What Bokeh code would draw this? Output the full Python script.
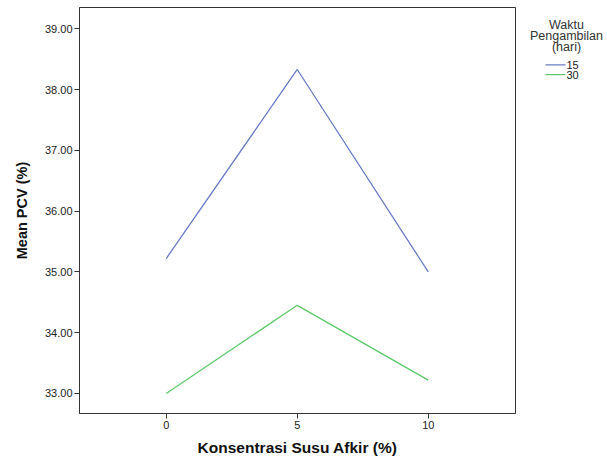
from bokeh.plotting import figure
from bokeh.layouts import row
from bokeh.models import Range1d, FixedTicker, CustomJSTickFormatter
from bokeh.core.properties import value
from bokeh.embed import file_html
from bokeh.resources import INLINE

konsentrasi = [0, 5, 10]
pcv_15 = [35.22, 38.33, 35.00]
pcv_30 = [33.00, 34.45, 33.22]
series_names = ["15", "30"]
series_colors = ["#6a7cc6", "#5cc96a"]
legend_title = ["Waktu", "Pengambilan", "(hari)"]
y_ticks = [33, 34, 35, 36, 37, 38, 39]
x_ticks = [0, 5, 10]

FONT = "Liberation Sans"

p = figure(width=516, height=460, output_backend="svg", toolbar_location=None,
           x_range=Range1d(-3.31, 13.33), y_range=Range1d(32.67, 39.35),
           min_border_left=79, min_border_right=1, min_border_top=7, min_border_bottom=47)
p.xgrid.visible = False
p.ygrid.visible = False
p.outline_line_color = "#333333"
p.outline_line_width = 1

p.line(konsentrasi, pcv_15, line_color=series_colors[0], line_width=1.3)
p.line(konsentrasi, pcv_30, line_color=series_colors[1], line_width=1.3)

for ax in (p.xaxis[0], p.yaxis[0]):
    ax.axis_line_color = "#333333"
    ax.major_tick_line_color = "#333333"
    ax.major_tick_out = 5
    ax.major_tick_in = 0
    ax.minor_tick_line_color = None
    ax.major_label_text_font = FONT
    ax.major_label_text_font_size = "11px"
    ax.major_label_text_color = "#222222"
    ax.axis_label_text_font = FONT
    ax.axis_label_text_font_style = "bold"
    ax.axis_label_text_color = "#111111"

p.xaxis.axis_label_text_font_size = "15.5px"
p.yaxis.axis_label_text_font_size = "14.5px"
p.xaxis.ticker = FixedTicker(ticks=x_ticks)
p.yaxis.ticker = FixedTicker(ticks=y_ticks)
p.yaxis.formatter = CustomJSTickFormatter(code="return tick.toFixed(2);")
p.xaxis.axis_label = "Konsentrasi Susu Afkir (%)"
p.yaxis.axis_label = "Mean PCV (%)"
p.xaxis.major_label_standoff = 2
p.yaxis.major_label_standoff = 2
p.xaxis.axis_label_standoff = 7
p.yaxis.axis_label_standoff = 12

# legend panel (pixel coordinates, y downward)
lg = figure(width=91, height=460, output_backend="svg", toolbar_location=None,
            x_range=Range1d(0, 91), y_range=Range1d(460, 0),
            min_border_left=0, min_border_right=0, min_border_top=0, min_border_bottom=0)
lg.axis.visible = False
lg.grid.visible = False
lg.outline_line_color = None

title_y = [20, 32.5, 44.5]
lg.text(x=[50] * len(legend_title), y=title_y, text=legend_title,
        text_align="center", text_baseline="middle",
        text_font=value(FONT), text_font_size="12.5px", text_color="#333333")

item_y = [65, 76]
lg.segment(x0=[29] * 2, y0=item_y, x1=[49] * 2, y1=item_y,
           line_color=series_colors, line_width=1.3)
lg.text(x=[50] * 2, y=item_y, text=series_names,
        text_align="left", text_baseline="middle",
        text_font=value(FONT), text_font_size="11px", text_color="#222222")

layout = row(p, lg, spacing=0)
open("out.html", "w").write(file_html(layout, INLINE))
